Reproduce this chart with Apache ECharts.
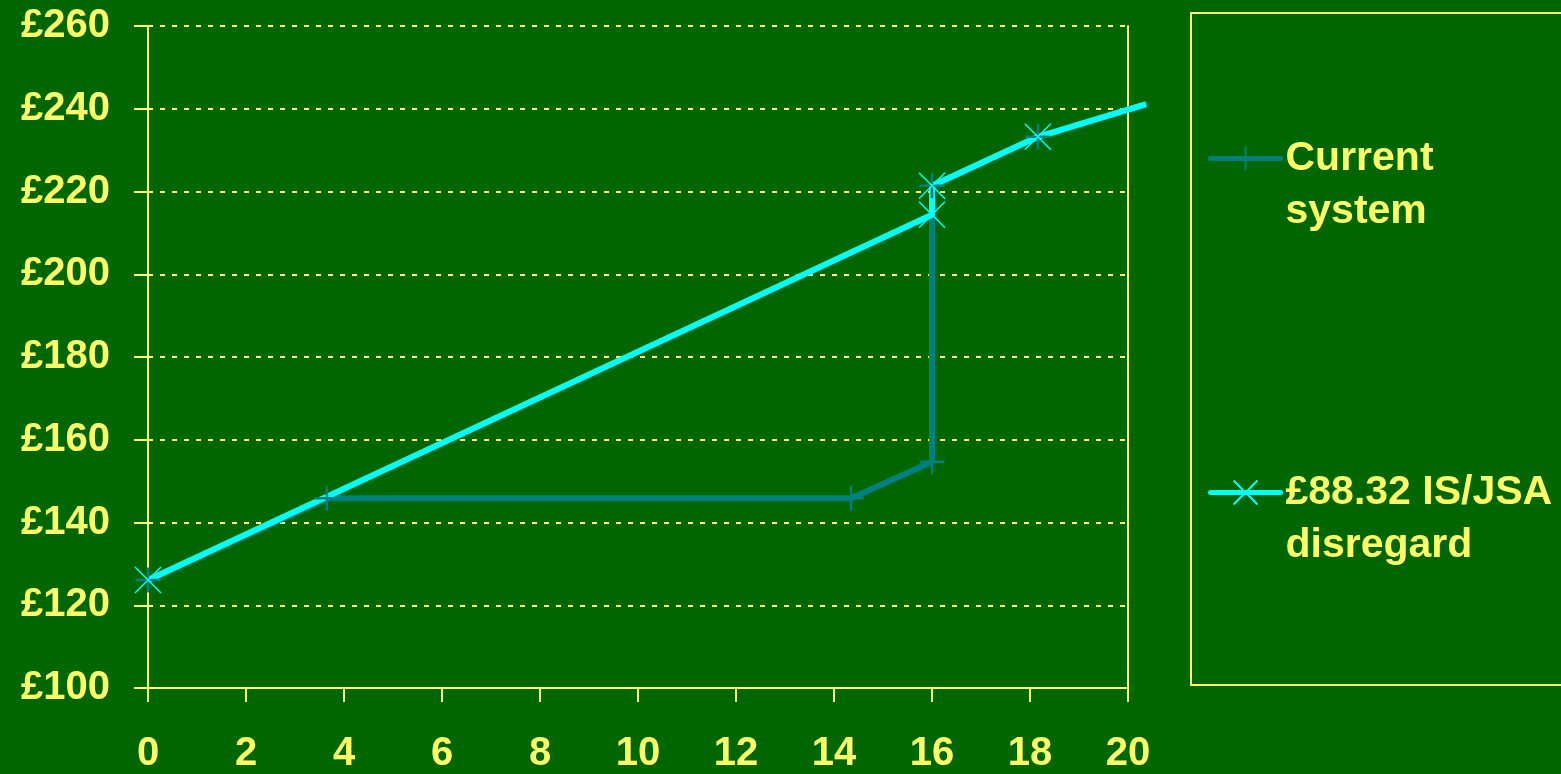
<!DOCTYPE html>
<html>
<head>
<meta charset="utf-8">
<script src="https://cdn.jsdelivr.net/npm/echarts@6/dist/echarts.min.js"></script>
<style>
  html, body { margin: 0; padding: 0; background: #006600; }
  #chart { width: 1561px; height: 774px; }
</style>
</head>
<body>
<div id="chart"></div>
<script>
// hours worked vs weekly income
const currentHours = [0, 3.65, 14.35, 16, 16, 18.16, 20.37]
const currentIncome = [126.5, 146.2, 146.2, 155, 221.5, 233.3, 241.2]
const disregardHours = [0, 16, 16, 18.16, 20.37]
const disregardIncome = [126.5, 214.5, 221.5, 233.3, 241.2]
const xTicks = [0, 2, 4, 6, 8, 10, 12, 14, 16, 18, 20]
const yTicks = [100, 120, 140, 160, 180, 200, 220, 240, 260]
const seriesNames = ['Current system', '£88.32 IS/JSA disregard']

const yellow = '#ffff66'
const font = "'Liberation Sans', Arial, sans-serif"
const plus = 'path://M0,-1L0,1M-1,0L1,0'
const cross = 'path://M-1,-1L1,1M-1,1L1,-1'

// last point runs past the plot edge without a marker
function toPoints(xs, ys) {
  return xs.map((x, i) => {
    const p = { value: [x, ys[i]] }
    if (i === xs.length - 1) p.symbol = 'none'
    return p
  })
}

const legendText = {
  color: yellow, fontFamily: font, fontWeight: 'bold', fontSize: 41, lineHeight: 53
}

// the lines run a little past x=20, so they sit on a wider hidden grid
// with the same scale (49px per hour) as the visible one
const chart = echarts.init(document.getElementById('chart'))
chart.setOption({
  backgroundColor: '#006600',
  animation: false,
  grid: [
    { left: 148, right: 433, top: 26, bottom: 84 },
    { left: 148, right: 384, top: 26, bottom: 84 }
  ],
  graphic: [{
    type: 'rect',
    shape: { x: 1191, y: 13, width: 420, height: 672 },
    style: { fill: 'none', stroke: yellow, lineWidth: 2 }
  }],
  legend: [
    {
      data: [seriesNames[0]], left: 1203, top: 74,
      itemWidth: 70, itemHeight: 30, padding: 5,
      formatter: () => '\nCurrent\nsystem',
      lineStyle: { width: 5, cap: 'round' },
      textStyle: legendText
    },
    {
      data: [seriesNames[1]], left: 1203, top: 408,
      itemWidth: 70, itemHeight: 30, padding: 5,
      formatter: () => '\n£88.32 IS/JSA\ndisregard',
      lineStyle: { width: 5, cap: 'round' },
      textStyle: legendText
    }
  ],
  xAxis: [
    {
      gridIndex: 0, type: 'value', min: xTicks[0], max: xTicks[xTicks.length - 1], interval: 2,
      axisLine: { lineStyle: { color: yellow, width: 2 } },
      axisTick: { length: 14, lineStyle: { color: yellow, width: 2 } },
      splitLine: { show: false },
      axisLabel: {
        color: yellow, fontFamily: font, fontWeight: 'bold', fontSize: 40, margin: 46,
        formatter: v => xTicks.includes(v) ? String(v) : ''
      }
    },
    {
      gridIndex: 1, type: 'value', min: 0, max: 21, show: false
    }
  ],
  yAxis: [
    {
      gridIndex: 0, type: 'value', min: yTicks[0], max: yTicks[yTicks.length - 1], interval: 20,
      axisLine: { show: true, lineStyle: { color: yellow, width: 2 } },
      axisTick: { show: true, length: 14, lineStyle: { color: yellow, width: 2 } },
      splitLine: { lineStyle: { color: yellow, width: 2, type: [5, 7] } },
      axisLabel: {
        color: yellow, fontFamily: font, fontWeight: 'bold', fontSize: 40, margin: 38,
        formatter: v => yTicks.includes(v) ? '£' + v : ''
      }
    },
    {
      gridIndex: 0, type: 'value', position: 'right', min: yTicks[0], max: yTicks[yTicks.length - 1],
      axisLine: { show: true, lineStyle: { color: yellow, width: 2 } },
      axisTick: { show: false }, axisLabel: { show: false }, splitLine: { show: false }
    },
    {
      gridIndex: 1, type: 'value', min: yTicks[0], max: yTicks[yTicks.length - 1], show: false
    }
  ],
  series: [
    {
      name: seriesNames[0], type: 'line', xAxisIndex: 1, yAxisIndex: 2,
      data: toPoints(currentHours, currentIncome),
      symbol: plus, symbolSize: 25,
      lineStyle: { color: '#008080', width: 6 },
      itemStyle: { color: '#008080', borderColor: '#008080', borderWidth: 2.5 }
    },
    {
      name: seriesNames[1], type: 'line', xAxisIndex: 1, yAxisIndex: 2,
      data: toPoints(disregardHours, disregardIncome),
      symbol: cross, symbolSize: 26,
      lineStyle: { color: '#00ffff', width: 6 },
      itemStyle: { color: '#00ffff', borderColor: '#00ffff', borderWidth: 1.5 }
    }
  ]
})
</script>
</body>
</html>
